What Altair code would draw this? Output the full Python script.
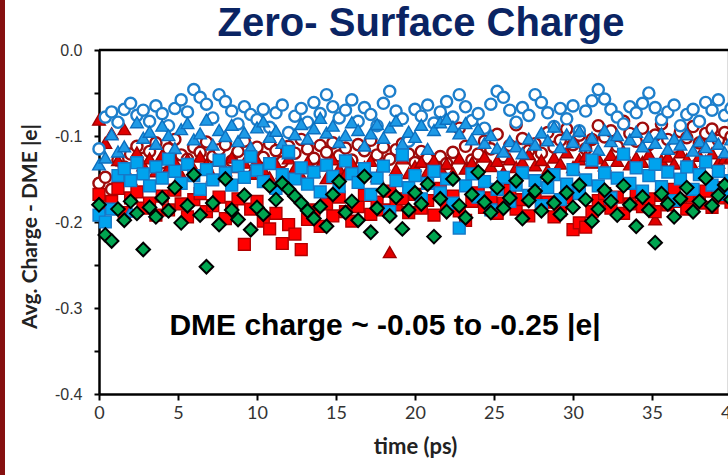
import altair as alt
import pandas as pd

# ---------------- data ----------------
time_ps = [round(0.4 * i, 1) for i in range(101)]

blue_open_circles = [
    -0.115, -0.078, -0.072, -0.084, -0.069, -0.062, -0.076, -0.070, -0.083, -0.065,
    -0.074, -0.088, -0.068, -0.058, -0.072, -0.046, -0.055, -0.063, -0.079, -0.052,
    -0.060, -0.071, -0.086, -0.066, -0.075, -0.081, -0.069, -0.090, -0.073, -0.064,
    -0.096, -0.077, -0.068, -0.084, -0.061, -0.074, -0.052, -0.066, -0.079, -0.070,
    -0.058, -0.083, -0.067, -0.075, -0.088, -0.062, -0.048, -0.071, -0.080, -0.106,
    -0.069, -0.077, -0.064, -0.085, -0.072, -0.060, -0.078, -0.052, -0.066, -0.082,
    -0.074, -0.091, -0.063, -0.048, -0.055, -0.070, -0.084, -0.067, -0.076, -0.052,
    -0.061, -0.073, -0.089, -0.068, -0.080, -0.065, -0.094, -0.071, -0.059, -0.046,
    -0.057, -0.069, -0.078, -0.086, -0.066, -0.073, -0.062, -0.050, -0.067, -0.081,
    -0.072, -0.064, -0.088, -0.075, -0.069, -0.083, -0.061, -0.070, -0.058, -0.076,
    -0.068,
]
blue_triangles = [
    -0.133, -0.125, -0.098, -0.118, -0.112, -0.188, -0.084, -0.102, -0.095, -0.109,
    -0.088, -0.099, -0.114, -0.092, -0.085, -0.104, -0.097, -0.081, -0.110, -0.093,
    -0.100, -0.087, -0.106, -0.096, -0.113, -0.090, -0.083, -0.101, -0.094, -0.108,
    -0.120, -0.098, -0.086, -0.103, -0.091, -0.079, -0.096, -0.088, -0.107, -0.099,
    -0.084, -0.093, -0.111, -0.097, -0.086, -0.102, -0.090, -0.082, -0.109, -0.095,
    -0.101, -0.087, -0.115, -0.093, -0.084, -0.080, -0.089, -0.097, -0.085, -0.104,
    -0.092, -0.108, -0.099, -0.114, -0.118, -0.106, -0.112, -0.120, -0.103, -0.110,
    -0.096, -0.105, -0.089, -0.113, -0.098, -0.107, -0.094, -0.111, -0.102, -0.116,
    -0.093, -0.106, -0.099, -0.121, -0.104, -0.095, -0.112, -0.101, -0.108, -0.097,
    -0.115, -0.103, -0.110, -0.098, -0.117, -0.106, -0.113, -0.100, -0.109, -0.119,
    -0.104,
]
red_open_circles = [
    -0.155, -0.148, -0.162, -0.128, -0.136, -0.121, -0.112, -0.126, -0.118, -0.108,
    -0.131, -0.115, -0.104, -0.122, -0.127, -0.113, -0.119, -0.107, -0.124, -0.116,
    -0.110, -0.129, -0.118, -0.106, -0.121, -0.113, -0.125, -0.109, -0.117, -0.130,
    -0.112, -0.120, -0.104, -0.115, -0.126, -0.111, -0.119, -0.108, -0.123, -0.114,
    -0.128, -0.110, -0.117, -0.105, -0.122, -0.113, -0.127, -0.116, -0.109, -0.121,
    -0.131, -0.118, -0.126, -0.135, -0.124, -0.132, -0.119, -0.091, -0.112, -0.128,
    -0.121, -0.106, -0.115, -0.098, -0.124, -0.111, -0.087, -0.103, -0.117, -0.109,
    -0.120, -0.096, -0.113, -0.105, -0.092, -0.110, -0.099, -0.115, -0.104, -0.088,
    -0.101, -0.094, -0.112, -0.083, -0.097, -0.106, -0.091, -0.110, -0.099, -0.086,
    -0.104, -0.113, -0.095, -0.102, -0.089, -0.108, -0.097, -0.092, -0.105, -0.096,
    -0.101,
]
red_triangles = [
    -0.081, -0.108, -0.097, -0.128, -0.092, -0.150, -0.119, -0.134, -0.126, -0.141,
    -0.122, -0.137, -0.130, -0.145, -0.127, -0.138, -0.124, -0.133, -0.147, -0.129,
    -0.140, -0.125, -0.136, -0.131, -0.144, -0.128, -0.139, -0.148, -0.132, -0.143,
    -0.126, -0.137, -0.146, -0.130, -0.141, -0.134, -0.149, -0.127, -0.138, -0.144,
    -0.131, -0.142, -0.136, -0.129, -0.147, -0.133, -0.235, -0.139, -0.126, -0.143,
    -0.135, -0.130, -0.141, -0.128, -0.137, -0.132, -0.143, -0.126, -0.138, -0.131,
    -0.140, -0.124, -0.135, -0.129, -0.142, -0.127, -0.136, -0.130, -0.121, -0.134,
    -0.128, -0.139, -0.125, -0.132, -0.119, -0.136, -0.127, -0.123, -0.131, -0.126,
    -0.134, -0.122, -0.129, -0.118, -0.133, -0.125, -0.130, -0.121, -0.197, -0.128,
    -0.124, -0.132, -0.119, -0.127, -0.135, -0.123, -0.129, -0.120, -0.131, -0.126,
    -0.124,
]
red_squares = [
    -0.168, -0.182, -0.176, -0.161, -0.189, -0.172, -0.165, -0.184, -0.178, -0.192,
    -0.170, -0.186, -0.163, -0.179, -0.194, -0.174, -0.167, -0.188, -0.181, -0.171,
    -0.196, -0.183, -0.173, -0.226, -0.185, -0.176, -0.199, -0.208, -0.190, -0.225,
    -0.203, -0.214, -0.232, -0.197, -0.186, -0.205, -0.179, -0.193, -0.171, -0.188,
    -0.199, -0.182, -0.169, -0.191, -0.177, -0.186, -0.164, -0.180, -0.173, -0.189,
    -0.168, -0.184, -0.175, -0.192, -0.161, -0.179, -0.170, -0.187, -0.198, -0.176,
    -0.166, -0.183, -0.172, -0.190, -0.178, -0.163, -0.185, -0.174, -0.193, -0.169,
    -0.181, -0.177, -0.194, -0.186, -0.172, -0.209, -0.201, -0.206, -0.188, -0.175,
    -0.167, -0.184, -0.171, -0.190, -0.179, -0.165, -0.182, -0.173, -0.188, -0.169,
    -0.180, -0.162, -0.176, -0.185, -0.170, -0.178, -0.164, -0.183, -0.172, -0.160,
    -0.177,
]
blue_squares = [
    -0.192, -0.200, -0.185, -0.146, -0.138, -0.152, -0.131, -0.144, -0.158, -0.136,
    -0.149, -0.127, -0.141, -0.155, -0.133, -0.146, -0.162, -0.139, -0.151, -0.128,
    -0.143, -0.157, -0.135, -0.148, -0.124, -0.140, -0.153, -0.132, -0.161, -0.145,
    -0.118, -0.150, -0.137, -0.156, -0.142, -0.165, -0.134, -0.147, -0.159, -0.129,
    -0.144, -0.154, -0.138, -0.168, -0.149, -0.135, -0.188, -0.152, -0.122, -0.160,
    -0.146, -0.173, -0.155, -0.141, -0.166, -0.150, -0.178, -0.207, -0.158, -0.144,
    -0.171, -0.153, -0.186, -0.162, -0.148, -0.176, -0.157, -0.143, -0.169, -0.152,
    -0.181, -0.160, -0.145, -0.174, -0.156, -0.139, -0.167, -0.151, -0.128, -0.158,
    -0.143, -0.172, -0.149, -0.121, -0.155, -0.137, -0.164, -0.146, -0.133, -0.159,
    -0.142, -0.175, -0.150, -0.136, -0.162, -0.145, -0.130, -0.157, -0.141, -0.168,
    -0.152,
]
green_diamonds = [
    -0.180, -0.215, -0.222, -0.185, -0.198, -0.176, -0.190, -0.232, -0.183, -0.194,
    -0.172, -0.187, -0.160, -0.201, -0.181, -0.145, -0.192, -0.252, -0.178, -0.203,
    -0.150, -0.186, -0.197, -0.169, -0.209, -0.183, -0.191, -0.158, -0.174, -0.155,
    -0.162, -0.170, -0.178, -0.187, -0.196, -0.182, -0.205, -0.168, -0.153, -0.189,
    -0.176, -0.198, -0.147, -0.212, -0.184, -0.163, -0.193, -0.171, -0.208, -0.186,
    -0.166, -0.179, -0.156, -0.217, -0.173, -0.188, -0.150, -0.181, -0.195, -0.168,
    -0.142, -0.177, -0.189, -0.160, -0.184, -0.172, -0.152, -0.196, -0.175, -0.164,
    -0.187, -0.148, -0.178, -0.191, -0.166, -0.183, -0.157, -0.174, -0.199, -0.185,
    -0.163, -0.176, -0.192, -0.158, -0.180, -0.205, -0.171, -0.186, -0.224, -0.167,
    -0.179, -0.194, -0.173, -0.160, -0.188, -0.176, -0.149, -0.181, -0.169, -0.157,
    -0.174,
]

x_ticks = [2.5 * i for i in range(17)]
y_ticks = [-0.4, -0.35, -0.3, -0.25, -0.2, -0.15, -0.1, -0.05, 0.0]
chart_title = "Zero- Surface Charge"
x_title = "time (ps)"
y_title = "Avg. Charge -  DME |e|"
annotation_text = "DME charge ~ -0.05 to -0.25 |e|"
annotation_pos = (18.1, -0.331)

# ---------------- encodings ----------------
X = alt.X(
    "time:Q",
    scale=alt.Scale(domain=[0, 40], range=[0, 632], nice=False, zero=False),
    axis=alt.Axis(
        values=x_ticks,
        labelExpr="datum.value % 5 == 0 ? format(datum.value, 'd') : ''",
        grid=False, domainColor="black", domainWidth=2.5,
        tickColor="black", tickWidth=2, tickSize=6,
        labelFont="Lato", labelFontSize=18, labelColor="#333333", labelPadding=4,
        labelFlush=False, labelOverlap=False,
        title=x_title, titleFont="Lato", titleFontSize=22, titleFontWeight="bold",
        titleColor="#222222", titlePadding=14,
    ),
)
Y = alt.Y(
    "charge:Q",
    scale=alt.Scale(domain=[-0.4, 0.0], nice=False, zero=False),
    axis=alt.Axis(
        values=y_ticks,
        labelExpr="abs(datum.value*10 - round(datum.value*10)) < 0.001 ? replace(format(datum.value, '.1f'), '\u2212', '-') : ''",
        grid=False, domainColor="black", domainWidth=2.5,
        tickColor="black", tickWidth=2, tickSize=5,
        labelFont="Liberation Sans", labelFontSize=16, labelColor="#333333", labelPadding=12,
        labelOverlap=False,
        title=y_title, titleFont="Lato", titleFontSize=21, titleFontWeight="bold",
        titleColor="#222222", titleAngle=-90, titleX=-69, titleY=176,
        titleAlign="center", titleBaseline="middle",
    ),
)


def series_layer(values, shape, size, fill, stroke, stroke_width):
    df = pd.DataFrame({"time": time_ps, "charge": values})
    return alt.Chart(df).mark_point(
        shape=shape, size=size, filled=True, fill=fill, stroke=stroke,
        strokeWidth=stroke_width, opacity=1,
    ).encode(x=X, y=Y)


layers = [
    series_layer(red_open_circles, "circle", 125, "white", "#9E0B0B", 2.4),
    series_layer(red_triangles, "triangle-up", 160, "#E00000", "#A00000", 1.4),
    series_layer(red_squares, "square", 140, "#FF0000", "#B00000", 1.4),
    series_layer(blue_open_circles, "circle", 125, "white", "#1E7FCB", 2.4),
    series_layer(blue_triangles, "triangle-up", 160, "#1E9AE6", "#0B6FBF", 1.4),
    series_layer(blue_squares, "square", 140, "#00A3EE", "#1479C8", 1.4),
    series_layer(green_diamonds, "diamond", 185, "#00A550", "#000000", 2),
]

top_line = alt.Chart(pd.DataFrame({"v": [0]})).mark_rule(
    color="black", strokeWidth=2.5
).encode(y=alt.datum(0.0), x=alt.value(0), x2=alt.value(640))

left_bar = alt.Chart(pd.DataFrame({"v": [0]})).mark_rect(
    color="#861010"
).encode(x=alt.value(-99), x2=alt.value(-94), y=alt.value(-50), y2=alt.value(425))

annotation = alt.Chart(pd.DataFrame({"label": [annotation_text]})).mark_text(
    font="Liberation Sans", fontWeight="bold", fontSize=30, color="black",
    align="center", baseline="alphabetic",
).encode(x=alt.datum(annotation_pos[0]), y=alt.datum(annotation_pos[1]), text="label:N")

title_text = alt.Chart(pd.DataFrame({"label": [chart_title]})).mark_text(
    font="Liberation Sans", fontWeight="bold", fontSize=40, color="#0A2463",
    align="center", baseline="alphabetic",
).encode(x=alt.value(322), y=alt.value(-14), text="label:N")

chart = alt.layer(*layers, top_line, annotation, title_text, left_bar).properties(
    width=628,
    height=344,
    padding={"left": 99, "top": 50, "right": 1, "bottom": 81},
    autosize=alt.AutoSizeParams(type="none"),
).configure_view(stroke="transparent").configure(background="white")

chart.save("out.html", embed_options={"renderer": "svg", "actions": False})
